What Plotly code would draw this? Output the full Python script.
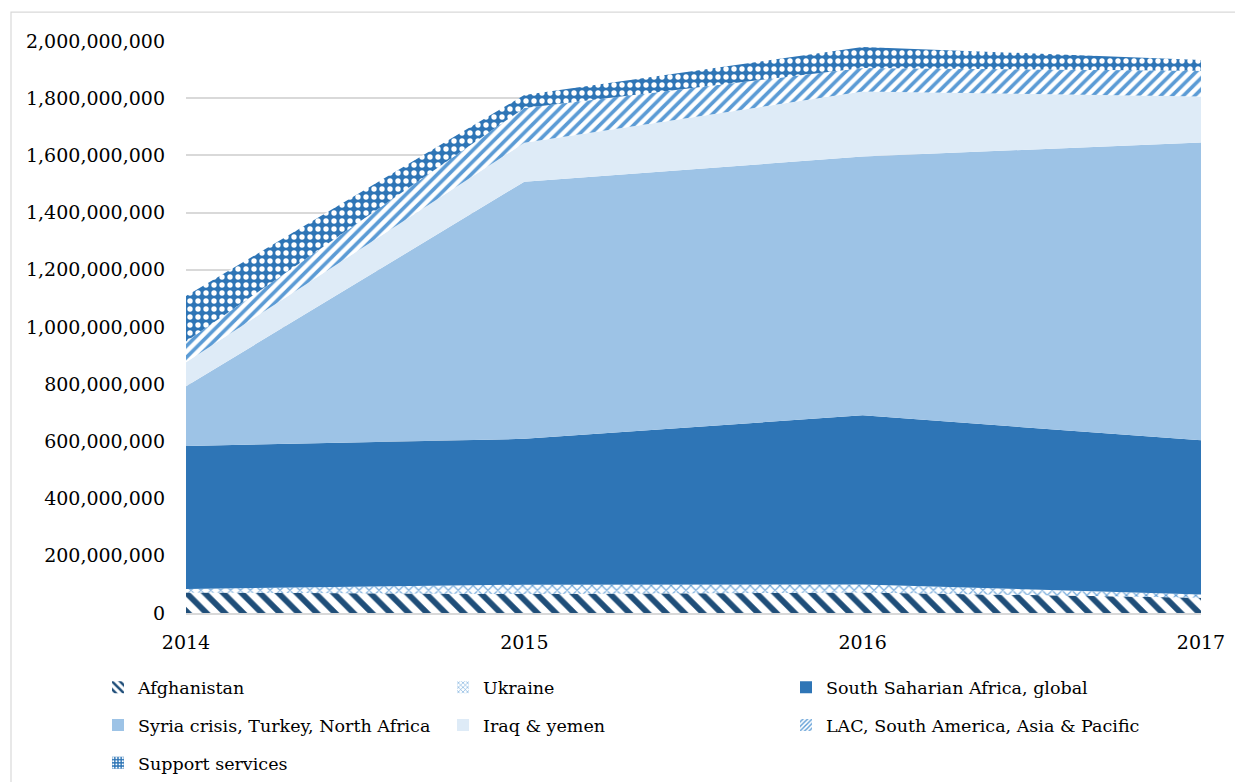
import plotly.graph_objects as go

years = [2014, 2015, 2016, 2017]

afghanistan = [72e6, 66e6, 72e6, 53e6]
ukraine = [12e6, 33e6, 28e6, 12e6]
south_saharian_africa = [500e6, 510e6, 591e6, 539e6]
syria_turkey_north_africa = [209e6, 899e6, 905e6, 1041e6]
iraq_yemen = [84e6, 136e6, 227e6, 161e6]
lac_asia_pacific = [72e6, 122e6, 83e6, 90e6]
support_services = [159e6, 45e6, 73e6, 38e6]

# name, values, fill style, legend column
series = [
    ("Afghanistan", afghanistan,
     dict(shape="\\", fgcolor="#1F4E79", bgcolor="white", size=13, solidity=0.45), "legend"),
    ("Ukraine", ukraine,
     dict(shape="x", fgcolor="#5B9BD5", bgcolor="white", size=7, solidity=0.3), "legend2"),
    ("South Saharian Africa, global", south_saharian_africa,
     dict(shape="", bgcolor="#2E75B6"), "legend3"),
    ("Syria crisis, Turkey, North Africa", syria_turkey_north_africa,
     dict(shape="", bgcolor="#9DC3E6"), "legend"),
    ("Iraq & yemen", iraq_yemen,
     dict(shape="", bgcolor="#DEEBF7"), "legend2"),
    ("LAC, South America, Asia & Pacific", lac_asia_pacific,
     dict(shape="/", fgcolor="#5B9BD5", bgcolor="white", size=8, solidity=0.45), "legend3"),
    ("Support services", support_services,
     dict(shape=".", fgcolor="white", bgcolor="#2E75B6", size=8, solidity=0.35), "legend"),
]

SERIF = "DejaVu Serif"

fig = go.Figure()
for name, vals, pat, leg in series:
    kw = dict(fillcolor=pat["bgcolor"])
    if pat["shape"]:
        kw["fillpattern"] = dict(fillmode="replace", **pat)
    fig.add_trace(go.Scatter(
        x=years, y=vals, name=name, mode="lines", stackgroup="one",
        line=dict(width=0, color=pat.get("fgcolor", pat["bgcolor"])),
        showlegend=False, hoverinfo="skip", **kw))

# square legend keys carrying the same fills
for name, vals, pat, leg in series:
    marker = dict(color=pat["bgcolor"], line=dict(width=0))
    if pat["shape"]:
        lp = dict(pat)
        lp["size"] = max(4, int(pat["size"] * 0.6))
        marker["pattern"] = dict(fillmode="replace", **lp)
    fig.add_trace(go.Bar(x=[None], y=[None], name=name, marker=marker,
                         legend=leg, legendgroup=name, showlegend=True,
                         hoverinfo="skip"))

W, H = 1235, 782
L, R, T, B = 186, 34, 41, 168.5
pw, ph = W - L - R, H - T - B

def px_x(p):
    return (p - L) / pw

def px_y(p):
    return 1 - (p - T) / ph

legend_common = dict(orientation="v", xanchor="left", yanchor="top",
                     traceorder="grouped", tracegroupgap=12,
                     font=dict(size=17.5, family=SERIF, color="black"),
                     bgcolor="rgba(0,0,0,0)", itemwidth=30)

LEG_TOP = 670

fig.update_layout(
    width=W, height=H,
    margin=dict(l=L, r=R, t=T, b=B, autoexpand=False),
    paper_bgcolor="white", plot_bgcolor="white",
    font=dict(size=19, family=SERIF, color="black"),
    showlegend=True,
    legend=dict(x=px_x(98), y=px_y(LEG_TOP), **legend_common),
    legend2=dict(x=px_x(443), y=px_y(LEG_TOP), **legend_common),
    legend3=dict(x=px_x(786), y=px_y(LEG_TOP), **legend_common),
    xaxis=dict(range=[2014, 2017], tickvals=years, ticktext=[str(y) for y in years],
               showgrid=False, showline=True, linecolor="#D9D9D9", linewidth=1.5,
               ticks="", tickfont=dict(size=19, family=SERIF, color="black"),
               ticklabelstandoff=11, zeroline=False, fixedrange=True),
    yaxis=dict(range=[0, 2e9], tickvals=[i * 2e8 for i in range(11)],
               tickformat=",d", showgrid=True, gridcolor="#D9D9D9", gridwidth=1.5,
               zeroline=False, showline=False, ticks="",
               tickfont=dict(size=19, family=SERIF, color="black"),
               ticklabelstandoff=20, fixedrange=True),
    shapes=[dict(type="rect", xref="paper", yref="paper",
                 x0=px_x(11), x1=px_x(1240), y0=px_y(800), y1=px_y(12),
                 line=dict(color="#D9D9D9", width=1.2), layer="below")],
)

fig.write_html("out.html")
